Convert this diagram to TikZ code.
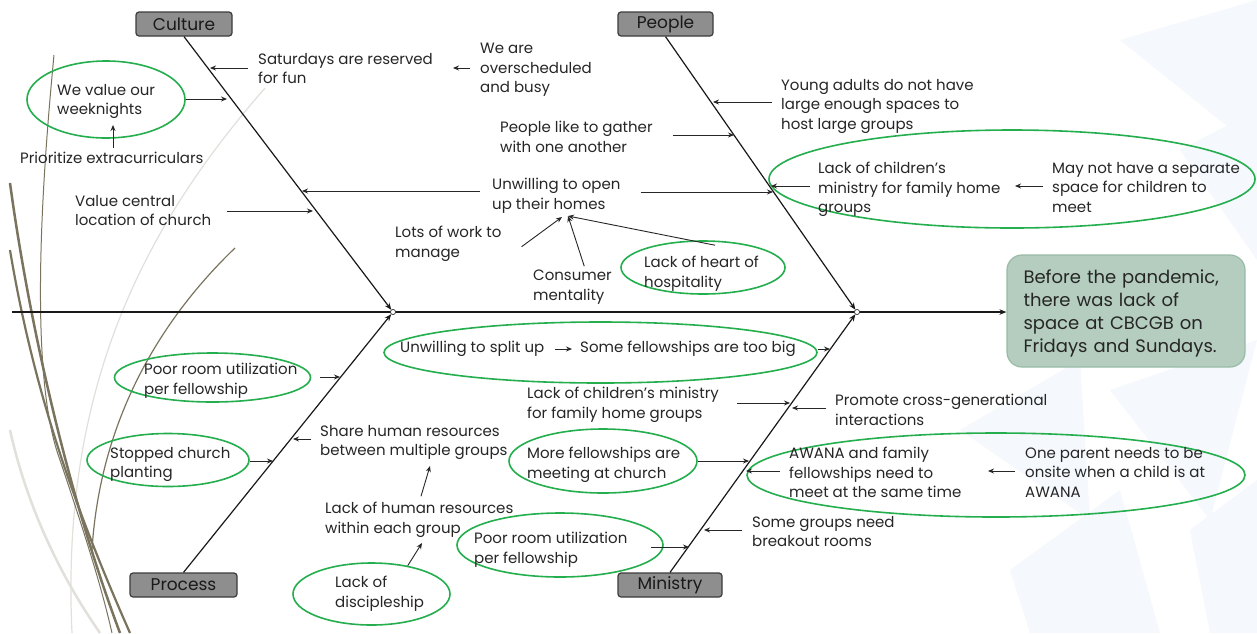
\documentclass[tikz,border=0pt]{standalone}
\usepackage{fontspec}
\setmainfont{Poppins}
\usetikzlibrary{shapes.geometric,arrows.meta}
\definecolor{txtc}{RGB}{38,38,38}
\definecolor{grn}{RGB}{36,174,78}
\definecolor{boxfill}{RGB}{142,142,142}
\definecolor{boxdraw}{RGB}{60,60,60}
\definecolor{headfill}{RGB}{180,205,191}
\definecolor{headdraw}{RGB}{152,187,166}
\definecolor{olive}{RGB}{122,116,94}
\definecolor{lgray}{RGB}{226,224,219}
\definecolor{tri}{RGB}{245,248,252}
\begin{document}
\begin{tikzpicture}[x=1pt,y=-1pt,
  txt/.style={font=\fontsize{15}{19.5}\selectfont, align=left, inner sep=0pt, anchor=north west, text=txtc, yshift=-5pt},
  ellg/.style={draw=grn, line width=1.6pt, ellipse, inner sep=0pt},
  arr/.style={-{Stealth[length=6pt,width=5pt]}, line width=0.9pt, draw=black!85},
  bone/.style={-{Stealth[length=7pt,width=5.5pt]}, line width=1.2pt, draw=black!90},
  cat/.style={draw=boxdraw, fill=boxfill, rounded corners=3pt, line width=1.2pt, minimum height=24pt, inner sep=0pt, font=\fontsize{17}{19}\selectfont, text=black!90},
  jn/.style={circle, draw=black!80, fill=white, inner sep=0pt, minimum size=5pt, line width=0.6pt}
]
\useasboundingbox (0,0) rectangle (1257,633);
\fill[white] (0,0) rectangle (1257,633);
% background decoration
\fill[tri] (1120,40) -- (1257,0) -- (1257,150) -- cycle;
\fill[tri] (1180,150) -- (1257,110) -- (1257,260) -- cycle;
\fill[tri] (960,430) -- (1080,360) -- (1090,520) -- cycle;
\fill[tri] (1110,390) -- (1257,340) -- (1210,520) -- cycle;
\fill[tri] (1010,570) -- (1120,490) -- (1160,633) -- (1030,633) -- cycle;
\fill[tri] (1190,530) -- (1257,480) -- (1257,633) -- (1210,633) -- cycle;
\draw[lgray, line width=1.2pt] (265,88) .. controls (150,220) and (60,380) .. (72,633);
\draw[lgray, line width=2.5pt] (10,430) .. controls (30,520) and (70,590) .. (100,633);
\draw[olive, line width=1pt] (54,55) .. controls (40,200) and (30,380) .. (60,460) .. controls (80,520) and (100,580) .. (112,633);
\draw[olive, line width=2.5pt] (10,183) .. controls (30,330) and (70,500) .. (120,633);
\draw[olive, line width=2.2pt] (10,250) .. controls (35,400) and (80,520) .. (130,633);
\draw[olive, line width=1.2pt] (235,248) .. controls (160,320) and (100,420) .. (92,550);

% spine and head
\node[draw=headdraw, fill=headfill, rounded corners=15pt, line width=1.2pt, minimum width=238pt, minimum height=112pt, text width=205pt, inner xsep=16pt, align=left, font=\fontsize{18}{23}\selectfont, text=txtc] (head) at (1126,311) {\rule{0pt}{19pt}Before the pandemic,\\there was lack of\\space at CBCGB on\\Fridays and Sundays.};
\coordinate (tail) at (12,312);
\node[jn] (j1) at (393,312) {};
\node[jn] (j2) at (857,312) {};
\draw[bone] (tail) -- (head.west |- tail);

% category boxes and bones
\node[cat, minimum width=96pt] (culture) at (184,24) {Culture};
\node[cat, minimum width=95pt] (people) at (665.5,24) {People};
\node[cat, minimum width=107pt] (process) at (183.5,585) {Process};
\node[cat, minimum width=104pt] (ministry) at (670,585) {Ministry};
\draw[bone] (culture.south) -- (j1);
\draw[bone] (process.north) -- (j1);
\draw[bone] (people.south) -- (j2);
\draw[bone] (ministry.north) -- (j2);
\node[jn] at (j1) {};
\node[jn] at (j2) {};

% ellipses
\node[ellg, minimum width=158pt, minimum height=77pt] (wkE) at (106,99.5) {};
\node[ellg, minimum width=164pt, minimum height=53pt] (hospE) at (703,267.5) {};
\node[ellg, minimum width=486pt, minimum height=98pt] (childE) at (1012,179) {};
\node[ellg, minimum width=196pt, minimum height=49pt] (poorPE) at (212.5,377.5) {};
\node[ellg, minimum width=162pt, minimum height=53pt] (stopE) at (168,460) {};
\node[ellg, minimum width=157pt, minimum height=62pt] (discE) at (371.5,594) {};
\node[ellg, minimum width=433pt, minimum height=61pt] (splitE) at (600.5,352.5) {};
\node[ellg, minimum width=188pt, minimum height=64pt] (moreE) at (603,461) {};
\node[ellg, minimum width=498pt, minimum height=84pt] (awanaE) at (996,475) {};
\node[ellg, minimum width=206pt, minimum height=64pt] (poorME) at (560,545) {};

% texts
\node[txt] (sat) at (258,48) {Saturdays are reserved\\for fun};
\node[txt] (busy) at (480,38) {We are\\overscheduled\\and busy};
\node[txt] (wk) at (57,79) {We value our\\weeknights};
\node[txt] (prio) at (20,147) {Prioritize extracurriculars};
\node[txt] (val) at (75,190) {Value central\\location of church};
\node[txt] (open) at (492,173) {Unwilling to open\\up their homes};
\node[txt] (work) at (395,221) {Lots of work to\\manage};
\node[txt] (cons) at (533,265) {Consumer\\mentality};
\node[txt] (hosp) at (644,251) {Lack of heart of\\hospitality};
\node[txt] (young) at (781,74) {Young adults do not have\\large enough spaces to\\host large groups};
\node[txt] (gather) at (500,116) {People like to gather\\with one another};
\node[txt] (child) at (818,157) {Lack of children’s\\ministry for family home\\groups};
\node[txt] (sep) at (1052,157) {May not have a separate\\space for children to\\meet};
\node[txt] (poorP) at (144,358) {Poor room utilization\\per fellowship};
\node[txt] (stop) at (110,442) {Stopped church\\planting};
\node[txt] (share) at (320,420) {Share human resources\\between multiple groups};
\node[txt] (lackHR) at (325,497) {Lack of human resources\\within each group};
\node[txt] (disc) at (335,571) {Lack of\\discipleship};
\node[txt] (split) at (400,336) {Unwilling to split up};
\node[txt] (big) at (580,336) {Some fellowships are too big};
\node[txt] (lackCM) at (527,382) {Lack of children’s ministry\\for family home groups};
\node[txt] (promote) at (835,389) {Promote cross-generational\\interactions};
\node[txt] (more) at (527,442) {More fellowships are\\meeting at church};
\node[txt] (awana) at (789,442) {AWANA and family\\fellowships need to\\meet at the same time};
\node[txt] (parent) at (1025,442) {One parent needs to be\\onsite when a child is at\\AWANA};
\node[txt] (breakout) at (752,511) {Some groups need\\breakout rooms};
\node[txt] (poorM) at (474,527) {Poor room utilization\\per fellowship};

% arrow tips
\coordinate (hSat) at (210,68);
\coordinate (hBusy) at (453,68);
\coordinate (hWk) at (227,99);
\coordinate (hPrio) at (113,125);
\coordinate (hVal) at (313,211);
\coordinate (hOpenL) at (302,191);
\coordinate (hOpenR) at (773,192);
\coordinate (hOpen1) at (562,217);
\coordinate (hOpen2) at (568,216);
\coordinate (hYoung) at (713,102);
\coordinate (hGather) at (734,135);
\coordinate (hChild) at (771,186);
\coordinate (hSep) at (1015,186);
\coordinate (hPoorP) at (340,377);
\coordinate (hStop) at (273,461);
\coordinate (hShare) at (293,439);
\coordinate (hLHR) at (430,466);
\coordinate (hDisc) at (422,543);
\coordinate (hSplit) at (830,349);
\coordinate (hLackCM) at (790,403);
\coordinate (hPromote) at (792,408);
\coordinate (hMore) at (749,461);
\coordinate (hAwana) at (746,471);
\coordinate (hParent) at (988,471);
\coordinate (hBreak) at (704,530);
\coordinate (hPoorM) at (689,547);
\coordinate (hBig) at (572,349);

% arrows
\draw[arr, shorten <=10pt] (hSat -| sat.west) -- (hSat);
\draw[arr, shorten <=10pt] (hBusy -| busy.west) -- (hBusy);
\draw[arr] (hWk -| wkE.east) -- (hWk);
\draw[arr, shorten <=4pt] (hPrio |- prio.north) -- (hPrio);
\draw[arr, shorten <=16pt] (hVal -| val.east) -- (hVal);
\draw[arr, shorten <=12pt] (hOpenL -| open.west) -- (hOpenL);
\draw[arr, shorten <=20pt] (hOpenR -| open.east) -- (hOpenR);
\draw[arr] ([shift={(20,3)}]work.east) -- (hOpen1);
\draw[arr, shorten <=4pt] ([xshift=13pt]cons.north) -- (hOpen2);
\draw[arr] ([shift={(12,5)}]hospE.north) -- (hOpen2);
\draw[arr, shorten <=9pt] (hYoung -| young.west) -- (hYoung);
\draw[arr, shorten <=20pt] (hGather -| gather.east) -- (hGather);
\draw[arr, shorten <=8pt] (hChild -| child.west) -- (hChild);
\draw[arr, shorten <=9pt] (hSep -| sep.west) -- (hSep);
\draw[arr, shorten <=9pt] (hPoorP -| poorPE.east) -- (hPoorP);
\draw[arr] (hStop -| stopE.east) -- (hStop);
\draw[arr, shorten <=9pt] (hShare -| share.west) -- (hShare);
\draw[arr, shorten <=6pt] (lackHR.north) -- (hLHR);
\draw[arr] (discE.38) -- (hDisc);
\draw[arr, shorten <=10pt] (hBig -| split.east) -- (hBig);
\draw[arr] (hSplit -| splitE.east) -- (hSplit);
\draw[arr, shorten <=18pt] (hLackCM -| lackCM.east) -- (hLackCM);
\draw[arr, shorten <=9pt] (hPromote -| promote.west) -- (hPromote);
\draw[arr] (hMore -| moreE.east) -- (hMore);
\draw[arr, shorten <=9pt] (hAwana -| awana.west) -- (hAwana);
\draw[arr, shorten <=10pt] (hParent -| parent.west) -- (hParent);
\draw[arr, shorten <=10pt] (hBreak -| breakout.west) -- (hBreak);
\draw[arr, shorten <=-13pt] (hPoorM -| poorME.east) -- (hPoorM);
\end{tikzpicture}
\end{document}
